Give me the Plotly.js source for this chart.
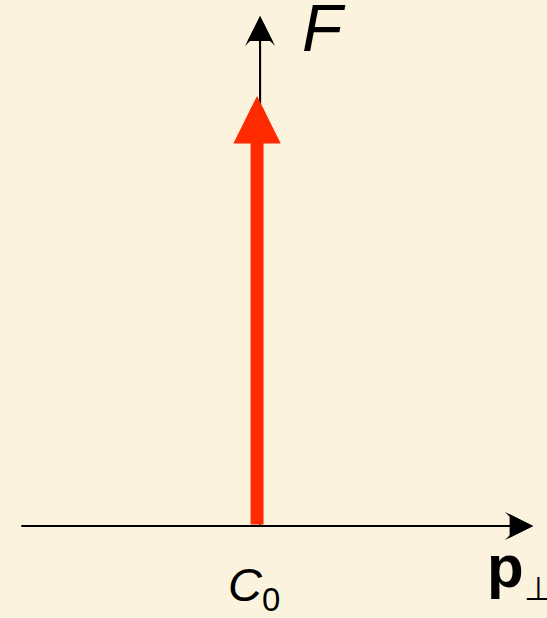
<!DOCTYPE html>
<html>
<head>
<meta charset="utf-8">
<script src="https://cdn.plot.ly/plotly-3.0.1.min.js"></script>
<style>
  html, body { margin: 0; padding: 0; background: #FCF3DF; }
  #chart { width: 547px; height: 618px; }
</style>
</head>
<body>
<div id="chart"></div>
<script>
// ---- data ----
const categories = ['C0'];          // spike location label
const positions = [0];              // spike position on p-perp axis
const values = [1];                 // spike height F
const xLabel = '<b>p</b><sub><span style="font-size:33px">⊥</span></sub>';
const yLabel = '<i>F</i>';
const catLabels = ['<i>C</i><sub>0</sub>'];

// ---- axis geometry ----
const xRange = [-1, 1.128];
const yRange = [-0.214, 1.2233];
const pAxisFrom = -0.922, pAxisTo = 1.074;
const fAxisX = 0.0117, fAxisTo = 1.186;

const red = '#FF2A00';
const black = '#000000';
const fontFam = 'Liberation Sans, Arial, Helvetica, sans-serif';

const annotations = [];

function axisArrow(x, y, ax, ay, size) {
  // barbed head + filled triangle head to make a stealth arrow
  [3, 2].forEach(h => annotations.push({
    x: x, y: y, ax: ax, ay: ay,
    xref: 'x', yref: 'y', axref: 'x', ayref: 'y',
    text: '', showarrow: true, arrowhead: h, arrowwidth: 2, arrowsize: size,
    arrowcolor: black, standoff: 0, startstandoff: 0, font: {size: 1}
  }));
}
axisArrow(pAxisTo, 0, pAxisFrom, 0, 2.35);      // horizontal p-perp axis
axisArrow(fAxisX, fAxisTo, fAxisX, 0, 2.5);     // vertical F axis

// spikes (data)
positions.forEach((p, i) => {
  annotations.push({
    x: p, y: values[i], ax: p, ay: 0,
    xref: 'x', yref: 'y', axref: 'x', ayref: 'y',
    text: '', showarrow: true, arrowhead: 2, arrowwidth: 13, arrowsize: 0.73,
    arrowcolor: red, standoff: 0, startstandoff: 0, font: {size: 1}
  });
  annotations.push({
    x: p, y: 0, xref: 'x', yref: 'y',
    text: catLabels[i], showarrow: false,
    xanchor: 'center', yanchor: 'top', yshift: -30, xshift: -3,
    font: {family: fontFam, size: 47, color: black}
  });
});
// axis labels
annotations.push({
  x: fAxisX, y: fAxisTo, xref: 'x', yref: 'y',
  text: yLabel, showarrow: false,
  xanchor: 'left', yanchor: 'middle', xshift: 40, yshift: -12,
  font: {family: fontFam, size: 66, color: black}
});
annotations.push({
  x: pAxisTo, y: 0, xref: 'x', yref: 'y',
  text: xLabel, showarrow: false,
  xanchor: 'right', yanchor: 'top', xshift: 22, yshift: -5,
  font: {family: fontFam, size: 60, color: black}
});

const layout = {
  width: 547, height: 618,
  margin: {l: 0, r: 0, t: 0, b: 0},
  paper_bgcolor: '#FCF3DF', plot_bgcolor: '#FCF3DF',
  showlegend: false,
  xaxis: {range: xRange, visible: false, fixedrange: true},
  yaxis: {range: yRange, visible: false, fixedrange: true},
  annotations: annotations
};

Plotly.newPlot('chart', [{
  x: positions, y: values, type: 'scatter', mode: 'none',
  hoverinfo: 'skip', showlegend: false, name: categories[0]
}], layout, {staticPlot: true});
</script>
</body>
</html>
